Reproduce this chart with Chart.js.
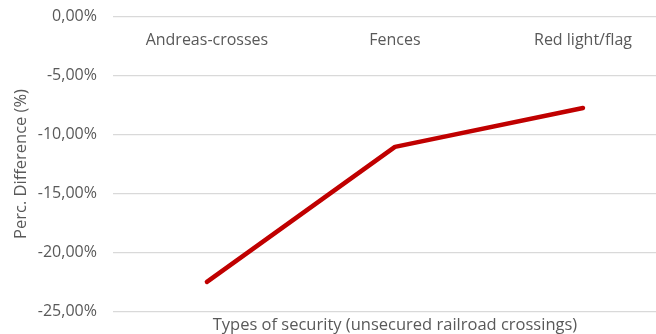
<!DOCTYPE html>
<html>
<head>
<meta charset="utf-8">
<script src="https://cdn.jsdelivr.net/npm/chart.js@4.4.1/dist/chart.umd.min.js"></script>
<style>
  html, body { margin: 0; padding: 0; overflow: hidden; background: #fff; }
  #wrap { position: relative; top: -9px; width: 680px; height: 346px; }
</style>
</head>
<body>
<div id="wrap"><canvas id="diffChart"></canvas></div>
<script>
// crossing types and the change measured for each
const categories = ["Andreas-crosses", "Fences", "Red light/flag"];
const percDifference = [-22.5, -11.05, -7.75];
const yTickValues = [-25, -20, -15, -10, -5, 0];

const textColor = "#595959";
const gridColor = "#d9d9d9";
const fontFamily = "'Open Sans', 'Liberation Sans', sans-serif";

const formatPct = (v) => v.toFixed(2).replace(".", ",") + "%";

new Chart(document.getElementById("diffChart"), {
  type: "line",
  data: {
    labels: categories,
    datasets: [
      {
        data: percDifference,
        borderColor: "#c00000",
        borderWidth: 4.5,
        borderCapStyle: "round",
        borderJoinStyle: "round",
        pointRadius: 0,
        tension: 0,
        fill: false,
      },
    ],
  },
  options: {
    responsive: true,
    maintainAspectRatio: false,
    animation: false,
    layout: {
      padding: { top: 0, right: 3, left: 11, bottom: 0 },
    },
    scales: {
      x: {
        type: "category",
        offset: true,
        position: { y: 0 },
        grid: { display: false, drawTicks: false },
        border: { display: false },
        ticks: {
          color: textColor,
          padding: 14,
          font: { family: fontFamily, size: 16 },
        },
      },
      // bottom axis only carries the title
      xTitle: {
        type: "category",
        position: "bottom",
        grid: { display: false, drawTicks: false },
        border: { display: false },
        ticks: { display: false },
        title: {
          display: true,
          text: "Types of security (unsecured railroad crossings)",
          color: textColor,
          padding: { top: 4, bottom: 0 },
          font: { family: fontFamily, size: 16.5 },
        },
      },
      y: {
        min: -25,
        max: 0,
        afterBuildTicks: (scale) => {
          scale.ticks = yTickValues.map((v) => ({ value: v }));
        },
        grid: { color: gridColor, lineWidth: 1.3, drawTicks: false },
        border: { display: false },
        ticks: {
          color: textColor,
          padding: 16,
          font: { family: fontFamily, size: 16 },
          callback: (value) => formatPct(value),
        },
        title: {
          display: true,
          text: "Perc. Difference (%)",
          color: textColor,
          padding: { top: 0, bottom: -9 },
          font: { family: fontFamily, size: 16.5 },
        },
      },
    },
    plugins: {
      legend: { display: false },
      tooltip: { enabled: false },
    },
  },
});
</script>
</body>
</html>
